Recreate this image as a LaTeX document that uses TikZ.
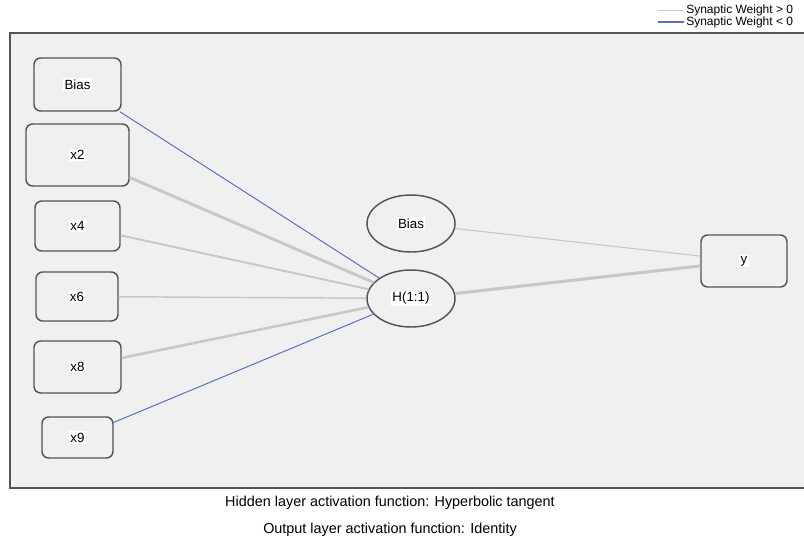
\documentclass[tikz,border=0pt]{standalone}
\usepackage{fontspec}
\setmainfont{Liberation Sans}
\usetikzlibrary{shapes.geometric}
\definecolor{panelbg}{HTML}{F0F0F0}
\definecolor{boxline}{HTML}{555555}
\definecolor{poswt}{HTML}{C8C8C8}
\definecolor{negwt}{HTML}{5B70C0}
\newcommand{\lbl}[1]{{\setlength{\fboxsep}{1pt}\colorbox{white}{#1}}}
\tikzset{
  unitbox/.style={draw=boxline, line width=1.1pt, rounded corners=5pt, fill=panelbg, inner sep=0pt, font=\fontsize{10}{11}\selectfont},
  unitell/.style={ellipse, draw=boxline, line width=1.1pt, fill=panelbg, inner sep=0pt, minimum width=66pt, minimum height=42.75pt, font=\fontsize{10}{11}\selectfont},
  poswire/.style={draw=poswt},
  negwire/.style={draw=negwt, line width=0.75pt},
  captxt/.style={font=\fontsize{10.8}{12}\selectfont, text=black},
  legtxt/.style={anchor=west, inner sep=0pt, font=\fontsize{9}{10}\selectfont}
}
\begin{document}
\begin{tikzpicture}[x=0.75pt, y=-0.75pt]
\useasboundingbox (0,0) rectangle (804,542);
\begin{scope}
\clip (0,0) rectangle (804,542);
% panel
\fill[panelbg] (10,33) rectangle (810,488);
\draw[boxline, line width=1.4pt] (810,33) -- (10,33) -- (10,488) -- (810,488);
% legend
\coordinate (l1a) at (658,10.5); \coordinate (l1b) at (684,10.5);
\coordinate (l2a) at (658,22); \coordinate (l2b) at (684,22);
\draw[poswire, line width=0.6pt] (l1a) -- (l1b);
\draw[negwt, line width=0.9pt] (l2a) -- (l2b);
\node[legtxt] (leg1) at (686,10.5) {Synaptic Weight > 0};
\node[legtxt] (leg2) at (686,22) {Synaptic Weight < 0};
% input nodes
\node[unitbox, minimum width=65.25pt, minimum height=39.75pt] (b1) at (77.5,84.5) {\lbl{Bias}};
\node[unitbox, minimum width=77.25pt, minimum height=46.5pt] (x2) at (77.5,155) {\lbl{x2}};
\node[unitbox, minimum width=63.75pt, minimum height=37.5pt] (x4) at (77.5,226) {\lbl{x4}};
\node[unitbox, minimum width=61.5pt, minimum height=36.75pt] (x6) at (77,296.5) {\lbl{x6}};
\node[unitbox, minimum width=65.25pt, minimum height=39pt] (x8) at (77.5,367) {\lbl{x8}};
\node[unitbox, minimum width=53.25pt, minimum height=30.75pt] (x9) at (77.5,437.5) {\lbl{x9}};
% hidden
\node[unitell] (b2) at (411,223.5) {\lbl{Bias}};
\node[unitell] (h) at (411,298.5) {\lbl{H(1:1)}};
% output
\node[unitbox, minimum width=64.5pt, minimum height=39pt] (y) at (744,261) {\lbl{y}};
% connections
\draw[negwire] (b1) -- (h);
\draw[poswire, line width=2.2pt] (x2) -- (h);
\draw[poswire, line width=1.5pt] (x4) -- (h);
\draw[poswire, line width=1.1pt] (x6) -- (h);
\draw[poswire, line width=1.9pt] (x8) -- (h);
\draw[negwire] (x9) -- (h);
\draw[poswire, line width=0.8pt] (b2) -- (y);
\draw[poswire, line width=2.3pt] (h) -- (y);
% captions
\node[captxt] (c1) at (390,503) {Hidden layer activation function: Hyperbolic tangent};
\node[captxt] (c2) at (390,530) {Output layer activation function: Identity};
\end{scope}
\end{tikzpicture}
\end{document}
